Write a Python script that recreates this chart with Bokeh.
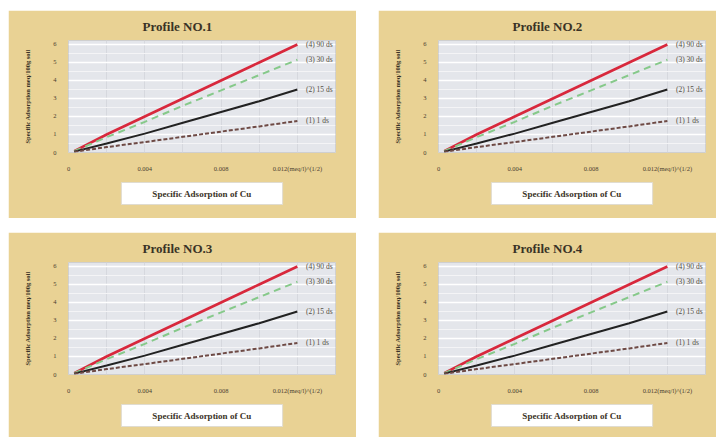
from bokeh.plotting import figure
from bokeh.layouts import column, row
from bokeh.models import Spacer, Title, FixedTicker, ColumnDataSource
from bokeh.embed import file_html
from bokeh.resources import INLINE
from bokeh.core.properties import value

# ---- data ----
profiles = ["Profile NO.1", "Profile NO.2", "Profile NO.3", "Profile NO.4"]
x_vals = [0.0003, 0.002, 0.004, 0.006, 0.008, 0.010, 0.012]
s4_90 = [0.08, 1.0, 2.0, 3.0, 4.0, 5.0, 6.0]
s3_30 = [0.07, 0.85, 1.7, 2.6, 3.45, 4.3, 5.15]
s2_15 = [0.05, 0.5, 1.05, 1.65, 2.25, 2.85, 3.5]
s1_1 = [0.04, 0.3, 0.58, 0.87, 1.16, 1.45, 1.75]
series_names = ["(4) 90 ds", "(3) 30 ds", "(2) 15 ds", "(1) 1 ds"]
x_ticks = [0, 0.004, 0.008, 0.012]
x_tick_labels = ["0", "0.004", "0.008", "0.012(meq/l)^(1/2)"]
y_ticks = [0, 1, 2, 3, 4, 5, 6]

TAN = "#e9d294"
SERIF = "Liberation Serif"


def panel(title, w, h):
    p = figure(width=w, height=h, output_backend="svg", toolbar_location=None,
               x_range=(0, 0.014), y_range=(0, 6.22),
               min_border_left=60, min_border_right=w - 327, min_border_top=30,
               min_border_bottom=h - 142)
    p.background_fill_color = "#e4e6eb"
    p.border_fill_color = TAN
    p.outline_line_color = "#cfcfcf"
    p.title.text = title
    p.title.align = "left"
    p.title.offset = 74
    p.title.text_font = SERIF
    p.title.text_font_size = "13px"
    p.title.text_font_style = "bold"
    p.title.text_color = "#3a3226"
    p.title.standoff = 13

    p.xaxis.ticker = FixedTicker(ticks=x_ticks)
    p.xaxis.major_label_overrides = {t: l for t, l in zip(x_ticks, x_tick_labels)}
    p.yaxis.ticker = FixedTicker(ticks=y_ticks, minor_ticks=[i + 0.5 for i in range(6)])
    for ax in (p.xaxis[0], p.yaxis[0]):
        ax.axis_line_color = None
        ax.major_tick_line_color = None
        ax.minor_tick_line_color = None
        ax.major_label_text_font = SERIF
        ax.major_label_text_font_size = "6.5px"
        ax.major_label_text_color = "#4a4030"
        ax.major_label_standoff = 6
    p.yaxis.axis_label = "Specific Adsorption meq/100g soil"
    p.yaxis.axis_label_text_font = SERIF
    p.yaxis.axis_label_text_font_size = "6.5px"
    p.yaxis.axis_label_text_font_style = "bold"
    p.yaxis.axis_label_text_color = "#3a3226"
    p.yaxis.axis_label_standoff = 19

    p.ygrid.grid_line_color = "#ffffff"
    p.ygrid.grid_line_width = 1.5
    p.ygrid.minor_grid_line_color = "#f4f4f6"
    p.ygrid.minor_grid_line_width = 1
    p.xgrid.ticker = FixedTicker(ticks=[0.002 * i for i in range(8)])
    p.xgrid.grid_line_color = "#d6d8de"
    p.xgrid.grid_line_width = 1

    p.line(x_vals, s4_90, line_color="#d8283c", line_width=2.6)
    p.line(x_vals, s3_30, line_color="#86c98a", line_width=2, line_dash="7 5")
    p.line(x_vals, s2_15, line_color="#222222", line_width=2)
    p.line(x_vals, s1_1, line_color="#6e4a45", line_width=2, line_dash="4 2")

    ends = [s4_90[-1], s3_30[-1], s2_15[-1], s1_1[-1]]
    src = ColumnDataSource(dict(x=[0.01245] * 4, y=ends, t=series_names))
    p.text(x="x", y="y", text="t", source=src, text_font=value(SERIF),
           text_font_size="7.5px", text_color="#555044", text_baseline="middle")

    box = Title(text="Specific Adsorption of Cu", align="center", text_font=SERIF,
                text_font_size="9px", text_font_style="bold", text_color="#3a3226",
                background_fill_color="white", border_line_color="#e0dcd0",
                padding=dict(left=31, right=31, top=6, bottom=6), standoff=12)
    p.add_layout(box, "below")
    return p


ps = [panel(profiles[0], 348, 208), panel(profiles[1], 338, 208),
      panel(profiles[2], 348, 205), panel(profiles[3], 338, 205)]
layout = column(Spacer(height=10),
                row(Spacer(width=8), ps[0], Spacer(width=22), ps[1]),
                Spacer(height=14),
                row(Spacer(width=8), ps[2], Spacer(width=22), ps[3]))

open("out.html", "w").write(file_html(layout, INLINE))
